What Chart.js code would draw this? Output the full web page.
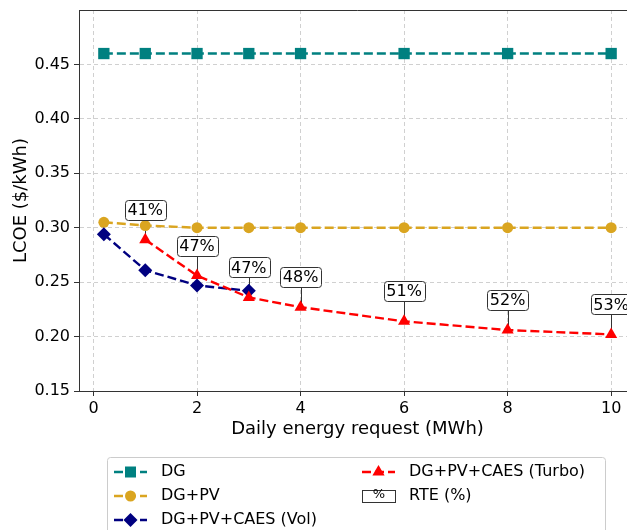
<!DOCTYPE html>
<html>
<head>
<meta charset="utf-8">
<script src="https://cdn.jsdelivr.net/npm/chart.js@4.4.1/dist/chart.umd.min.js"></script>
<style>
  html, body { margin: 0; padding: 0; background: #fff; overflow: hidden; }
  /* the original figure is cropped on the right, so the canvas runs a bit past the window */
  #wrap { width: 627px; height: 530px; overflow: hidden; }
</style>
</head>
<body>
<div id="wrap"><canvas id="c" width="636" height="530"></canvas></div>
<script>
// data
const energyAll = [0.2, 1, 2, 3, 4, 6, 8, 10];
const energyVol = [0.2, 1, 2, 3];
const energyTurbo = [1, 2, 3, 4, 6, 8, 10];

const lcoeDG = [0.46, 0.46, 0.46, 0.46, 0.46, 0.46, 0.46, 0.46];
const lcoePV = [0.305, 0.302, 0.300, 0.300, 0.300, 0.300, 0.300, 0.300];
const lcoeVol = [0.294, 0.261, 0.247, 0.242];
const lcoeTurbo = [0.289, 0.256, 0.236, 0.227, 0.214, 0.206, 0.202];

const rteLabels = ["41%", "47%", "47%", "48%", "51%", "52%", "53%"];

const xTicks = [0, 2, 4, 6, 8, 10];
const yTicks = [0.15, 0.20, 0.25, 0.30, 0.35, 0.40, 0.45];

const FONT = "'DejaVu Sans', sans-serif";
const DASH = [9, 4];

const toPoints = (xs, ys) => xs.map((x, i) => ({ x: x, y: ys[i] }));

function roundRect(ctx, x, y, w, h, r) {
  ctx.beginPath();
  ctx.moveTo(x + r, y);
  ctx.lineTo(x + w - r, y);
  ctx.quadraticCurveTo(x + w, y, x + w, y + r);
  ctx.lineTo(x + w, y + h - r);
  ctx.quadraticCurveTo(x + w, y + h, x + w - r, y + h);
  ctx.lineTo(x + r, y + h);
  ctx.quadraticCurveTo(x, y + h, x, y + h - r);
  ctx.lineTo(x, y + r);
  ctx.quadraticCurveTo(x, y, x + r, y);
  ctx.closePath();
}

function marker(ctx, style, color, x, y) {
  ctx.fillStyle = color;
  ctx.beginPath();
  if (style === "rect") {
    ctx.rect(x - 5.5, y - 5.5, 11, 11);
  } else if (style === "circle") {
    ctx.arc(x, y, 5.5, 0, Math.PI * 2);
  } else if (style === "rectRot") {
    ctx.moveTo(x, y - 7); ctx.lineTo(x + 7, y); ctx.lineTo(x, y + 7); ctx.lineTo(x - 7, y);
  } else {
    ctx.moveTo(x, y - 7); ctx.lineTo(x + 6.1, y + 3.5); ctx.lineTo(x - 6.1, y + 3.5);
  }
  ctx.closePath();
  ctx.fill();
}

// annotation boxes, top/right spines and the legend
const extras = {
  id: "extras",
  beforeDatasetsDraw(chart) {
    const { ctx, scales: { x, y } } = chart;
    ctx.save();
    ctx.strokeStyle = "#333";
    ctx.lineWidth = 1;
    energyTurbo.forEach((e, i) => {
      const px = Math.round(x.getPixelForValue(e)) + 0.5;
      const py = y.getPixelForValue(lcoeTurbo[i]);
      ctx.beginPath();
      ctx.moveTo(px, py);
      ctx.lineTo(px, py - 20);
      ctx.stroke();
    });
    ctx.restore();
  },
  afterDatasetsDraw(chart) {
    const { ctx, scales: { x, y } } = chart;
    ctx.save();
    ctx.font = "16px " + FONT;
    ctx.textAlign = "center";
    ctx.textBaseline = "middle";
    energyTurbo.forEach((e, i) => {
      const px = x.getPixelForValue(e);
      const cy = y.getPixelForValue(lcoeTurbo[i]) - 30;
      const w = ctx.measureText(rteLabels[i]).width + 5;
      roundRect(ctx, Math.round(px - w / 2) + 0.5, Math.round(cy - 10) + 0.5, Math.round(w), 20, 3);
      ctx.fillStyle = "#fff";
      ctx.fill();
      ctx.strokeStyle = "#333";
      ctx.lineWidth = 1;
      ctx.stroke();
      ctx.fillStyle = "#000";
      ctx.fillText(rteLabels[i], px, cy + 1);
    });
    ctx.restore();
  },
  afterDraw(chart) {
    const { ctx, chartArea } = chart;
    ctx.save();
    ctx.strokeStyle = "#333";
    ctx.lineWidth = 1;
    ctx.beginPath();
    ctx.moveTo(chartArea.left, chartArea.top + 0.5);
    ctx.lineTo(chartArea.right - 0.5, chartArea.top + 0.5);
    ctx.lineTo(chartArea.right - 0.5, chartArea.bottom);
    ctx.stroke();

    // legend frame
    roundRect(ctx, 107.5, 457.5, 498, 100, 3);
    ctx.fillStyle = "rgba(255,255,255,0.8)";
    ctx.fill();
    ctx.strokeStyle = "#ccc";
    ctx.stroke();

    const cols = [114, 362];
    const rows = [472, 496, 520];
    const items = chart.data.datasets.map((ds, i) => ({
      label: ds.label, color: ds.borderColor, style: ds.pointStyle,
      col: i < 3 ? 0 : 1, row: i < 3 ? i : i - 3
    }));
    items.push({ label: "RTE (%)", style: "box", col: 1, row: 1 });

    ctx.font = "16px " + FONT;
    ctx.textBaseline = "middle";
    items.forEach(it => {
      const x0 = cols[it.col], yy = rows[it.row];
      if (it.style === "box") {
        ctx.fillStyle = "#fff";
        ctx.fillRect(x0 + 0.5, yy - 5.5, 33, 12);
        ctx.strokeStyle = "#333";
        ctx.lineWidth = 1;
        ctx.strokeRect(x0 + 0.5, yy - 5.5, 33, 12);
        ctx.fillStyle = "#000";
        ctx.font = "13px " + FONT;
        ctx.textAlign = "center";
        ctx.fillText("%", x0 + 17, yy - 1);
        ctx.font = "16px " + FONT;
      } else {
        ctx.strokeStyle = it.color;
        ctx.lineWidth = 2.4;
        ctx.setLineDash(DASH);
        ctx.beginPath();
        ctx.moveTo(x0, yy);
        ctx.lineTo(x0 + 33, yy);
        ctx.stroke();
        ctx.setLineDash([]);
        marker(ctx, it.style, it.color, x0 + 16.5, yy);
      }
      ctx.fillStyle = "#000";
      ctx.textAlign = "left";
      ctx.fillText(it.label, x0 + 47, yy);
    });
    ctx.restore();
  }
};

const baseSet = {
  showLine: true,
  borderWidth: 2.4,
  borderDash: DASH,
  pointBorderWidth: 0,
  tension: 0
};

new Chart(document.getElementById("c"), {
  type: "scatter",
  data: {
    datasets: [
      Object.assign({}, baseSet, {
        label: "DG", data: toPoints(energyAll, lcoeDG),
        borderColor: "#008080", backgroundColor: "#008080",
        pointStyle: "rect", pointRadius: 8, order: 3
      }),
      Object.assign({}, baseSet, {
        label: "DG+PV", data: toPoints(energyAll, lcoePV),
        borderColor: "#DAA520", backgroundColor: "#DAA520",
        pointStyle: "circle", pointRadius: 5.5, order: 2
      }),
      Object.assign({}, baseSet, {
        label: "DG+PV+CAES (Vol)", data: toPoints(energyVol, lcoeVol),
        borderColor: "#000080", backgroundColor: "#000080",
        pointStyle: "rectRot", pointRadius: 7, order: 1
      }),
      Object.assign({}, baseSet, {
        label: "DG+PV+CAES (Turbo)", data: toPoints(energyTurbo, lcoeTurbo),
        borderColor: "#ff0000", backgroundColor: "#ff0000",
        pointStyle: "triangle", pointRadius: 7, order: 0
      })
    ]
  },
  options: {
    responsive: false,
    animation: false,
    layout: { autoPadding: false, padding: { top: 10, left: 0, right: 0, bottom: 89 } },
    plugins: {
      legend: { display: false },
      tooltip: { enabled: false }
    },
    scales: {
      x: {
        type: "linear",
        min: -0.28,
        max: 10.48,
        afterBuildTicks: (axis) => { axis.ticks = xTicks.map(v => ({ value: v })); },
        afterFit: (scale) => { scale.height = 50; scale.paddingLeft = 0; scale.paddingRight = 0; },
        ticks: {
          color: "#000", padding: 3,
          font: { family: FONT, size: 16 },
          callback: (v) => String(v)
        },
        grid: { color: "#d0d0d0", lineWidth: 1, tickLength: 5, tickColor: "#333", tickBorderDash: [] },
        border: { color: "#333", width: 1, dash: [4, 3] },
        title: {
          display: true, text: "Daily energy request (MWh)", color: "#000",
          font: { family: FONT, size: 18 }, padding: { top: 0, bottom: 1 }
        }
      },
      y: {
        type: "linear",
        min: 0.15,
        max: 0.50,
        afterBuildTicks: (axis) => { axis.ticks = yTicks.map(v => ({ value: v })); },
        afterFit: (scale) => { scale.width = 79; scale.paddingTop = 0; scale.paddingBottom = 0; },
        ticks: {
          color: "#000", padding: 4,
          font: { family: FONT, size: 16 },
          callback: (v) => v.toFixed(2)
        },
        grid: { color: "#d0d0d0", lineWidth: 1, tickLength: 5, tickColor: "#333", tickBorderDash: [] },
        border: { color: "#333", width: 1, dash: [4, 3] },
        title: {
          display: true, text: "LCOE ($/kWh)", color: "#000",
          font: { family: FONT, size: 18 }, padding: { top: 11, bottom: 0 }
        }
      }
    }
  },
  plugins: [extras]
});
</script>
</body>
</html>
